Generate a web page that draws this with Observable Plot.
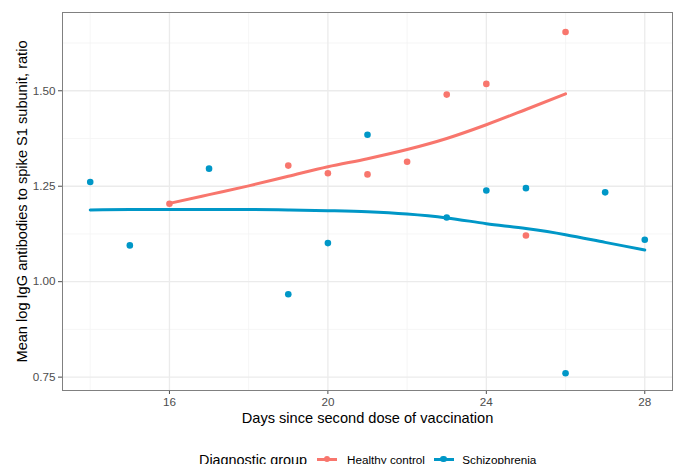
<!DOCTYPE html>
<html>
<head>
<meta charset="utf-8">
<script src="https://cdn.jsdelivr.net/npm/d3@7"></script>
<script src="https://cdn.jsdelivr.net/npm/@observablehq/plot@0.6"></script>
<style>
  html, body { margin: 0; padding: 0; background: #fff; overflow: hidden; }
  body { width: 678px; height: 464px; position: relative; font-family: "Liberation Sans", Arial, Helvetica, sans-serif; }
  #chart { position: absolute; left: 0; top: 0; }
  .leg { position: absolute; white-space: nowrap; line-height: 1; color: #000; }
  .key { position: absolute; height: 3px; width: 20px; }
  .key i { position: absolute; left: 6.7px; top: -1.8px; width: 6.6px; height: 6.6px; border-radius: 50%; }
</style>
</head>
<body>
<div id="chart"></div>
<div id="legend"></div>
<script>
// ---- data ----
const healthyDays   = [16, 19, 20, 21, 22, 23, 24, 25, 26];
const healthyValues = [1.204, 1.304, 1.284, 1.281, 1.314, 1.490, 1.518, 1.121, 1.654];

const schizoDays    = [14, 15, 17, 19, 20, 21, 23, 24, 25, 26, 27, 28];
const schizoValues  = [1.261, 1.095, 1.296, 0.967, 1.101, 1.385, 1.168, 1.239, 1.245, 0.760, 1.234, 1.110];

// loess smooth curves as drawn in the reference
const healthySmoothDays   = [16, 17, 18, 19, 20, 21, 22, 23, 24, 25, 26];
const healthySmoothValues = [1.205, 1.228, 1.251, 1.276, 1.301, 1.322, 1.346, 1.375, 1.411, 1.451, 1.492];

const schizoSmoothDays    = [14, 15, 16, 17, 18, 19, 20, 21, 22, 23, 24, 25, 26, 27, 28];
const schizoSmoothValues  = [1.188, 1.189, 1.189, 1.189, 1.189, 1.188, 1.186, 1.183, 1.177, 1.167, 1.152, 1.139, 1.123, 1.103, 1.083];

const groups = ["Healthy control", "Schizophrenia"];
const colors = ["#F8766D", "#0097C7"];

const xMajor = [16, 20, 24, 28];
const xMinor = [14, 18, 22, 26];
const yMajor = [0.75, 1.00, 1.25, 1.50];
const yMinor = [0.875, 1.125, 1.375, 1.625];

const xTitle = "Days since second dose of vaccination";
const yTitle = "Mean log IgG antibodies to spike S1 subunit, ratio";
const legendTitle = "Diagnostic group";

// ---- tables built from the arrays ----
const healthyPts = healthyDays.map((d, i) => ({day: d, value: healthyValues[i]}));
const schizoPts  = schizoDays.map((d, i) => ({day: d, value: schizoValues[i]}));
const healthySm  = healthySmoothDays.map((d, i) => ({day: d, value: healthySmoothValues[i]}));
const schizoSm   = schizoSmoothDays.map((d, i) => ({day: d, value: schizoSmoothValues[i]}));

const font = '"Liberation Sans", Arial, Helvetica, sans-serif';

const chart = Plot.plot({
  width: 678,
  height: 428,
  marginLeft: 62,
  marginRight: 6,
  marginTop: 12,
  marginBottom: 38,
  x: {domain: [13.3, 28.7]},
  y: {domain: [0.715, 1.705]},
  style: {fontFamily: font, background: "white", overflow: "visible"},
  marks: [
    Plot.gridX(xMinor, {stroke: "#f4f4f4", strokeOpacity: 1, strokeWidth: 0.8}),
    Plot.gridY(yMinor, {stroke: "#f4f4f4", strokeOpacity: 1, strokeWidth: 0.8}),
    Plot.gridX(xMajor, {stroke: "#ebebeb", strokeOpacity: 1, strokeWidth: 1.3}),
    Plot.gridY(yMajor, {stroke: "#ebebeb", strokeOpacity: 1, strokeWidth: 1.3}),
    Plot.axisX(xMajor, {tickSize: 4, tickPadding: 3, fontSize: 11.7, color: "#4d4d4d", label: null}),
    Plot.axisY(yMajor, {tickSize: 4, tickPadding: 3, fontSize: 11.7, color: "#4d4d4d", label: null, tickFormat: ".2f"}),
    Plot.dot(healthyPts, {x: "day", y: "value", r: 3.3, fill: colors[0], stroke: null}),
    Plot.dot(schizoPts,  {x: "day", y: "value", r: 3.3, fill: colors[1], stroke: null}),
    Plot.line(healthySm, {x: "day", y: "value", stroke: colors[0], strokeWidth: 3, curve: "monotone-x"}),
    Plot.line(schizoSm,  {x: "day", y: "value", stroke: colors[1], strokeWidth: 3, curve: "monotone-x"}),
    Plot.frame({stroke: "#808080", strokeWidth: 1}),
    Plot.text([xTitle], {text: d => d, frameAnchor: "bottom", lineAnchor: "middle", dy: 28, fontSize: 14.6, fill: "#000"}),
    Plot.text([yTitle], {text: d => d, frameAnchor: "left", textAnchor: "middle", lineAnchor: "middle", dx: -40, rotate: -90, fontSize: 14.6, fill: "#000"})
  ]
});
document.getElementById("chart").appendChild(chart);

// ---- legend (below the SVG) ----
const leg = document.getElementById("legend");
function addText(txt, left, top, size) {
  const s = document.createElement("span");
  s.className = "leg";
  s.textContent = txt;
  s.style.left = left + "px";
  s.style.top = top + "px";
  s.style.fontSize = size + "px";
  leg.appendChild(s);
}
function addKey(left, top, color) {
  const k = document.createElement("div");
  k.className = "key";
  k.style.left = left + "px";
  k.style.top = top + "px";
  k.style.background = color;
  const dot = document.createElement("i");
  dot.style.background = color;
  k.appendChild(dot);
  leg.appendChild(k);
}
addText(legendTitle, 199, 453.1, 14.4);
const keyLefts = [317, 433.5];
const labelLefts = [347, 462.3];
groups.forEach((g, i) => {
  addKey(keyLefts[i], 457.5, colors[i]);
  addText(g, labelLefts[i], 454.2, 11.7);
});
</script>
</body>
</html>
